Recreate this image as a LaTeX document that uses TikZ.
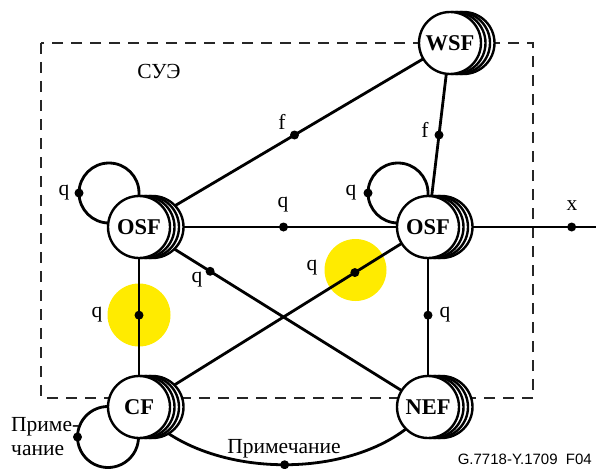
\documentclass[tikz,border=0pt]{standalone}
\usepackage{fontspec}
\setmainfont{Liberation Serif}
\newfontfamily\figserif{Liberation Serif}
\newfontfamily\figsans{Liberation Sans}
\pgfdeclarelayer{bg}
\pgfdeclarelayer{edges}
\pgfsetlayers{bg,edges,main}
\definecolor{hl}{RGB}{255,235,0}
\tikzset{
  fnode/.style={circle,draw,line width=2.4pt,fill=white,minimum size=62pt,inner sep=0pt,
    font=\figserif\fontsize{22.5}{24}\selectfont\bfseries},
  backcirc/.style={draw,line width=2.4pt,fill=white},
  link/.style={line width=2.8pt},
  dot/.style={circle,fill=black,inner sep=0pt,minimum size=9pt},
  lbl/.style={font=\figserif\fontsize{21.5}{24}\selectfont,inner sep=0pt},
  frame/.style={line width=2.8pt,dash pattern=on 11pt off 8pt,color=black!85},
  hilite/.style={fill=hl,draw=none},
}
\newcommand{\StackFn}[4]{%
  \foreach \dd in {13.5,9,4.5} {\draw[backcirc] (#2+\dd,#3) circle[radius=31pt];}
  \node[fnode] (#1) at (#2,#3) {#4};
}
\begin{document}
\begin{tikzpicture}[x=1pt,y=-1pt]
\useasboundingbox (0,0) rectangle (596,468);
% function nodes
\StackFn{wsf}{450}{43}{WSF}
\StackFn{osfl}{139}{227}{OSF}
\StackFn{osfr}{428}{227}{OSF}
\StackFn{cf}{139}{407}{CF}
\StackFn{nef}{428}{407}{NEF}
\coordinate (xend) at (596,227);
\coordinate (lpl) at (109,193);
\coordinate (lpr) at (398,193);
\coordinate (lpc) at (108,437);
% highlights
\begin{pgfonlayer}{bg}
  \fill[hilite] (139,315) circle[radius=31.5pt];
  \fill[hilite] (355.5,270) circle[radius=31pt];
\end{pgfonlayer}
% connectors and frame
\begin{pgfonlayer}{edges}
  \draw[frame] (41,43) rectangle (533,398);
  \draw[link] (osfl.center) -- node[dot,pos=0.5] (dq1) {} (osfr.center);
  \draw[link] (osfl.center) -- node[dot,pos=0.5] (df1) {} (wsf.center);
  \draw[link] (osfr.center) -- node[dot,pos=0.5] (df2) {} (wsf.center);
  \draw[link] (osfl.center) -- node[dot,pos=0.49] (dq2) {} (cf.center);
  \draw[link] (osfr.center) -- node[dot,pos=0.49] (dq3) {} (nef.center);
  \draw[link] (osfl.center) -- node[dot,pos=0.246] (dq4) {} (nef.center);
  \draw[link] (osfr.center) -- node[dot,pos=0.253] (dq5) {} (cf.center);
  \draw[link] (osfr.center) -- node[dot,pos=0.855] (dx) {} (xend);
  \draw[link] (lpl) circle[radius=30pt];
  \draw[link] (lpr) circle[radius=30pt];
  \draw[link] (lpc) circle[radius=30.5pt];
  \node[dot] (dl1) at ([xshift=-30pt]lpl) {};
  \node[dot] (dl2) at ([xshift=-30pt]lpr) {};
  \node[dot] (dl3) at ([xshift=-30.5pt]lpc) {};
  \draw[link] (cf.center) .. controls (200,484) and (370,484) .. node[dot,pos=0.5] (dn) {} (nef.center);
\end{pgfonlayer}
% labels
\node[lbl] at (159,71) {СУЭ};
\node[lbl] at (283,205) {q};
\node[lbl] at (282,122) {f};
\node[lbl] at (425,130) {f};
\node[lbl] at (64,193) {q};
\node[lbl] at (351,193) {q};
\node[lbl] at (97,315) {q};
\node[lbl] at (445,315) {q};
\node[lbl] at (197,280) {q};
\node[lbl] at (312,268) {q};
\node[lbl] at (572,206) {x};
\node[lbl,align=left,anchor=west] at (11,437) {Приме-\\чание};
\node[lbl] at (284,449) {Примечание};
\node[font=\figsans\fontsize{15}{18}\selectfont,anchor=east,inner sep=0pt] at (592,459) {G.7718-Y.1709\ \ F04};
\end{tikzpicture}
\end{document}
